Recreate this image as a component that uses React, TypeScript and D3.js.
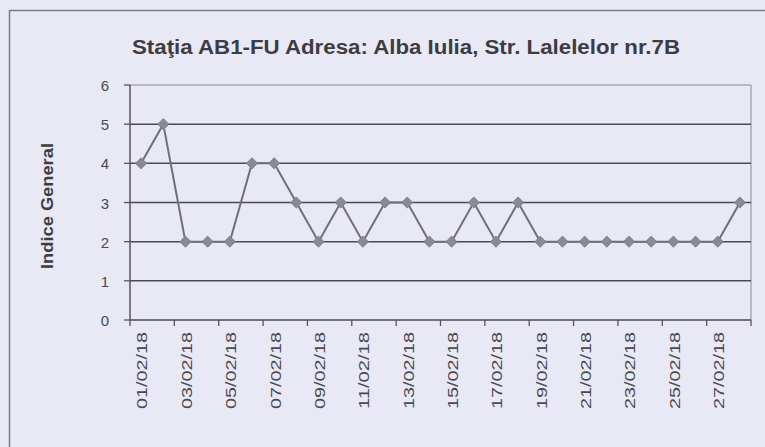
import React, { useEffect, useRef } from 'react';
import * as d3 from 'd3';

const days: string[] = [
  '01/02/18', '02/02/18', '03/02/18', '04/02/18', '05/02/18', '06/02/18', '07/02/18',
  '08/02/18', '09/02/18', '10/02/18', '11/02/18', '12/02/18', '13/02/18', '14/02/18',
  '15/02/18', '16/02/18', '17/02/18', '18/02/18', '19/02/18', '20/02/18', '21/02/18',
  '22/02/18', '23/02/18', '24/02/18', '25/02/18', '26/02/18', '27/02/18', '28/02/18',
];

const indice: number[] = [
  4, 5, 2, 2, 2, 4, 4, 3, 2, 3, 2, 3, 3, 2,
  2, 3, 2, 3, 2, 2, 2, 2, 2, 2, 2, 2, 2, 3,
];

const yTicks: number[] = [0, 1, 2, 3, 4, 5, 6];

const title = 'Staţia AB1-FU  Adresa: Alba Iulia, Str. Lalelelor nr.7B';
const yTitle = 'Indice General';

const FONT = 'Arial, "Liberation Sans", sans-serif';

const App: React.FC = () => {
  const svgRef = useRef<SVGSVGElement>(null);

  useEffect(() => {
    if (!svgRef.current) return;
    const svg = d3.select(svgRef.current);
    svg.selectAll('*').remove();

    const width = 765;
    const height = 447;
    const plot = { left: 130, right: 751, top: 85, bottom: 320 };

    // background + outer frame
    svg.append('rect')
      .attr('width', width).attr('height', height)
      .attr('fill', '#e9e8f5');
    svg.append('rect')
      .attr('x', 9.5).attr('y', 10.5)
      .attr('width', 780).attr('height', 460)
      .attr('fill', 'none').attr('stroke', '#7c7c84').attr('stroke-width', 1.5);

    const x = d3.scaleBand<string>()
      .domain(days)
      .range([plot.left, plot.right]);

    const y = d3.scaleLinear()
      .domain([0, 6])
      .range([plot.bottom, plot.top]);

    const g = svg.append('g');

    // plot border (top / right)
    g.append('line')
      .attr('x1', plot.left).attr('x2', plot.right)
      .attr('y1', y(6)).attr('y2', y(6))
      .attr('stroke', '#8a8a92').attr('stroke-width', 1.2);
    g.append('line')
      .attr('x1', plot.right).attr('x2', plot.right)
      .attr('y1', plot.top).attr('y2', plot.bottom)
      .attr('stroke', '#9a9aa2').attr('stroke-width', 1.2);

    // gridlines
    g.selectAll('line.grid')
      .data(yTicks.filter(t => t > 0 && t < 6))
      .join('line')
      .attr('class', 'grid')
      .attr('x1', plot.left).attr('x2', plot.right)
      .attr('y1', d => y(d)).attr('y2', d => y(d))
      .attr('stroke', '#4a4a52').attr('stroke-width', 1.5);

    // y axis
    g.append('line')
      .attr('x1', plot.left).attr('x2', plot.left)
      .attr('y1', plot.top).attr('y2', plot.bottom)
      .attr('stroke', '#55555c').attr('stroke-width', 1.5);
    g.selectAll('line.ytick')
      .data(yTicks)
      .join('line')
      .attr('class', 'ytick')
      .attr('x1', plot.left - 6).attr('x2', plot.left)
      .attr('y1', d => y(d)).attr('y2', d => y(d))
      .attr('stroke', '#55555c').attr('stroke-width', 1.3);
    g.selectAll('text.ylab')
      .data(yTicks)
      .join('text')
      .attr('class', 'ylab')
      .attr('x', 109)
      .attr('y', d => y(d) + 6)
      .attr('text-anchor', 'end')
      .attr('font-family', FONT)
      .attr('font-size', 15)
      .attr('fill', '#4a4a50')
      .text(d => d);

    // x axis
    g.append('line')
      .attr('x1', plot.left).attr('x2', plot.right)
      .attr('y1', plot.bottom).attr('y2', plot.bottom)
      .attr('stroke', '#4a4a52').attr('stroke-width', 1.5);
    const tickDays = days.filter((_, i) => i % 2 === 0);
    g.selectAll('line.xtick')
      .data(tickDays)
      .join('line')
      .attr('class', 'xtick')
      .attr('x1', d => x(d)!).attr('x2', d => x(d)!)
      .attr('y1', plot.bottom).attr('y2', plot.bottom + 6)
      .attr('stroke', '#55555c').attr('stroke-width', 1.3);
    g.append('line')
      .attr('x1', plot.right).attr('x2', plot.right)
      .attr('y1', plot.bottom).attr('y2', plot.bottom + 6)
      .attr('stroke', '#55555c').attr('stroke-width', 1.3);

    g.selectAll('text.xlab')
      .data(tickDays)
      .join('text')
      .attr('class', 'xlab')
      .attr('transform', d => `translate(${x(d)! + x.bandwidth() / 2 + 1},332) rotate(-90)`)
      .attr('text-anchor', 'end')
      .attr('dy', '0.36em')
      .attr('font-family', FONT)
      .attr('font-size', 15)
      .attr('fill', '#4a4a50')
      .attr('textLength', 77)
      .attr('lengthAdjust', 'spacingAndGlyphs')
      .text(d => d);

    // series line
    const line = d3.line<number>()
      .x((_, i) => x(days[i])! + x.bandwidth() / 2)
      .y(d => y(d));
    g.append('path')
      .datum(indice)
      .attr('d', line)
      .attr('fill', 'none')
      .attr('stroke', '#707078')
      .attr('stroke-width', 2);

    // diamond markers
    const diamond = d3.symbol().type(d3.symbolSquare).size(62);
    g.selectAll('path.marker')
      .data(indice)
      .join('path')
      .attr('class', 'marker')
      .attr('d', diamond)
      .attr('transform', (d, i) =>
        `translate(${x(days[i])! + x.bandwidth() / 2},${y(d)}) rotate(45)`)
      .attr('fill', '#8a8a94')
      .attr('stroke', '#7a7a84')
      .attr('stroke-width', 0.8);

    // titles
    svg.append('text')
      .attr('x', 406)
      .attr('y', 54)
      .attr('text-anchor', 'middle')
      .attr('font-family', FONT)
      .attr('font-weight', 'bold')
      .attr('font-size', 20)
      .attr('fill', '#3c3c42')
      .attr('textLength', 548)
      .attr('lengthAdjust', 'spacingAndGlyphs')
      .text(title);

    svg.append('text')
      .attr('transform', 'translate(47,206) rotate(-90)')
      .attr('text-anchor', 'middle')
      .attr('dy', '0.36em')
      .attr('font-family', FONT)
      .attr('font-weight', 'bold')
      .attr('font-size', 17)
      .attr('fill', '#3c3c42')
      .attr('textLength', 126)
      .attr('lengthAdjust', 'spacingAndGlyphs')
      .text(yTitle);
  }, []);

  return (
    <svg
      ref={svgRef}
      width={765}
      height={447}
      style={{ position: 'absolute', left: 0, top: 0, display: 'block' }}
    />
  );
};

export default App;
